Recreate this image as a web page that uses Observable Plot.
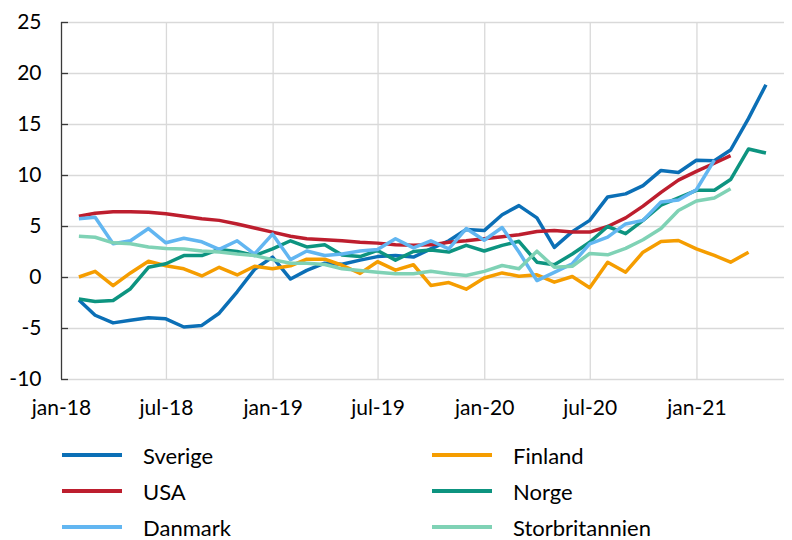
<!DOCTYPE html>
<html><head><meta charset="utf-8">
<script src="https://cdn.jsdelivr.net/npm/d3@7"></script>
<script src="https://cdn.jsdelivr.net/npm/@observablehq/plot@0.6"></script>
<style>
body{margin:0;background:#fff;font-family:Lato,"Open Sans",sans-serif;}
#chart{height:430px}
#legend{display:grid;grid-template-columns:370px 370px;grid-template-rows:36px 36px 36px;grid-auto-flow:column;padding-left:62px;padding-top:7px}
.item{display:flex;align-items:center;font-size:22px;color:#000}
.sw{width:60px;height:4px;margin-right:21px}
</style></head><body><div id="chart"></div><div id="legend"></div>
<script>
// Monthly values (month-end), starting jan-18
const tickLabels = ["jan-18","jul-18","jan-19","jul-19","jan-20","jul-20","jan-21"];
const yTicks = [-10,-5,0,5,10,15,20,25];

const sverige = [-2.2,-3.7,-4.45,-4.2,-3.95,-4.05,-4.85,-4.7,-3.5,-1.4,0.8,2.0,-0.15,0.7,1.4,1.3,1.7,2.05,2.15,2.0,2.8,3.6,4.7,4.6,6.15,7.05,5.85,2.95,4.5,5.6,7.9,8.2,9.0,10.5,10.3,11.5,11.45,12.5,15.6,18.9];
const usa = [6.0,6.3,6.45,6.45,6.4,6.25,6.0,5.75,5.6,5.25,4.85,4.45,4.05,3.8,3.7,3.6,3.45,3.37,3.2,3.15,3.2,3.45,3.6,3.8,4.0,4.2,4.5,4.6,4.45,4.45,5.0,5.85,7.0,8.35,9.55,10.4,11.2,11.95];
const danmark = [5.75,5.9,3.3,3.6,4.8,3.4,3.85,3.5,2.75,3.6,2.3,4.25,1.75,2.6,2.15,2.3,2.6,2.75,3.8,2.9,3.6,2.8,4.8,3.65,4.9,2.5,-0.3,0.5,1.35,3.3,3.95,5.25,5.6,7.4,7.6,8.6,11.5];
const finland = [0.05,0.6,-0.8,0.45,1.6,1.15,0.85,0.15,1.0,0.25,1.1,0.85,1.15,1.8,1.8,1.2,0.4,1.55,0.72,1.25,-0.78,-0.5,-1.15,-0.05,0.45,0.13,0.26,-0.46,0.1,-1.0,1.5,0.52,2.48,3.53,3.63,2.8,2.16,1.5,2.48];
const norge = [-2.1,-2.35,-2.25,-1.1,1.0,1.35,2.15,2.15,2.75,2.55,2.15,2.8,3.6,3.0,3.2,2.2,2.05,2.65,1.7,2.55,2.7,2.5,3.15,2.6,3.15,3.55,1.5,1.25,2.3,3.45,5.0,4.3,5.6,7.1,7.8,8.55,8.55,9.6,12.6,12.2];
const storbritannien = [4.05,3.95,3.4,3.3,3.0,2.85,2.8,2.6,2.5,2.3,2.15,1.75,1.4,1.4,1.27,0.85,0.69,0.52,0.36,0.36,0.62,0.36,0.2,0.6,1.18,0.85,2.58,1.0,1.1,2.35,2.22,2.85,3.7,4.8,6.57,7.5,7.8,8.7];

const seriesNames = ["Sverige","Finland","USA","Norge","Danmark","Storbritannien"];
const seriesValues = [sverige,finland,usa,norge,danmark,storbritannien];
const seriesColors = ["#0b6fb6","#f59d00","#bd1e2e","#0d9480","#62b6f1","#7fd2b5"];
const legendOrder = ["Sverige","USA","Danmark","Finland","Norge","Storbritannien"];

// month-end date of the i-th month (0 = jan-18)
const monthEnd = i => new Date(Date.UTC(2018, i + 1, 0));
const tickDates = tickLabels.map((_, k) => new Date(Date.UTC(2018, 6 * k, 1)));
const xDomain = [new Date(Date.UTC(2018,0,1)), new Date(Date.UTC(2021,5,1))];

const rows = [];
seriesNames.forEach((name, s) => {
  seriesValues[s].forEach((v, i) => rows.push({series: name, date: monthEnd(i), value: v}));
});

const chart = Plot.plot({
  width: 792,
  height: 430,
  marginLeft: 61,
  marginRight: 8,
  marginTop: 22,
  marginBottom: 51,
  style: {fontFamily: "Lato, 'Open Sans', sans-serif", fontSize: "21px", color: "#000", background: "#fff"},
  x: {type: "utc", domain: xDomain, ticks: tickDates, tickFormat: (d) => tickLabels[tickDates.findIndex(t => +t === +d)], tickSize: 0, tickPadding: 21, label: null},
  y: {domain: [-10, 25], ticks: yTicks, tickFormat: d => String(d), tickSize: 0, tickPadding: 20, label: null},
  color: {domain: seriesNames, range: seriesColors},
  marks: [
    Plot.ruleY(yTicks, {stroke: "#d9d9d9", strokeWidth: 1.3}),
    Plot.ruleX(tickDates.slice(1), {stroke: "#d9d9d9", strokeWidth: 1.3}),
    Plot.ruleY(yTicks, {x1: () => xDomain[0], x2: () => xDomain[0], insetRight: -7, stroke: "#3a3a3a", strokeWidth: 1.3}),
    Plot.ruleX([xDomain[0]], {stroke: "#3a3a3a", strokeWidth: 1.3}),
    Plot.line(rows, {x: "date", y: "value", z: "series", stroke: "series", strokeWidth: 3.5, strokeLinejoin: "round", strokeLinecap: "butt"})
  ]
});
document.getElementById("chart").appendChild(chart);

const legend = document.getElementById("legend");
legendOrder.forEach(name => {
  const c = seriesColors[seriesNames.indexOf(name)];
  const it = document.createElement("div");
  it.className = "item";
  it.innerHTML = `<span class="sw" style="background:${c}"></span><span>${name}</span>`;
  legend.appendChild(it);
});
</script></body></html>
